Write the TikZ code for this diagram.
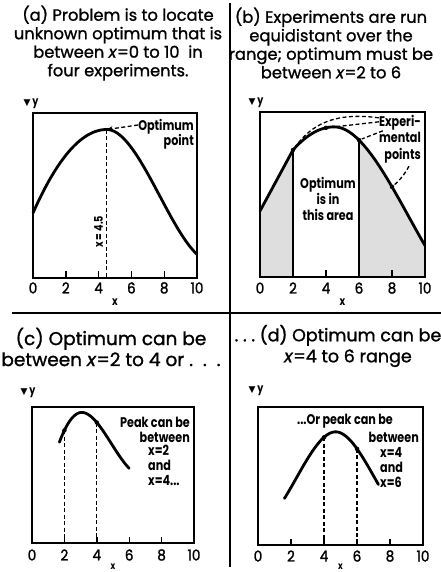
\documentclass[tikz,border=0pt]{standalone}
\usepackage{fontspec}
\setmainfont{Poppins}
\newfontfamily\headfont[FakeBold=1.2]{Poppins}
\newfontfamily\numfont[FakeStretch=0.9, FakeBold=1.6]{Poppins}
\newfontfamily\notefont[FakeStretch=0.80]{Poppins}
\newfontfamily\symfont{DejaVu Sans}
\usetikzlibrary{arrows.meta}

\begin{document}
\begin{tikzpicture}[x=1pt, y=-1pt,
  frame/.style={line width=2.6pt},
  curve/.style={line width=2.8pt},
  guide/.style={line width=1.3pt, dash pattern=on 4pt off 2.5pt},
  cut/.style={line width=1.6pt},
  tickmark/.style={line width=1.4pt},
  rule/.style={line width=2.6pt},
  heading/.style={align=center, inner sep=0pt, font=\headfont\fontsize{16.3}{18.5}\selectfont},
  lowheading/.style={align=center, inner sep=0pt, font=\headfont\fontsize{18.5}{21}\selectfont},
  note/.style={inner sep=0pt, font=\notefont\bfseries\fontsize{14}{15}\selectfont},
  num/.style={inner sep=0pt, font=\numfont\fontsize{15}{15}\selectfont},
  axis/.style={inner sep=0pt, font=\notefont\bfseries\fontsize{12}{12}\selectfont},
  dot/.style={circle, fill, inner sep=0pt, minimum size=4.5pt}]
\useasboundingbox (0,0) rectangle (441,572);
\draw[rule] (230,3) -- (230,567);
\draw[rule] (12,313) -- (441,313);
\node[heading] (titleA) at (118,43) {(a) Problem is to locate\\unknown optimum that is\\between \textit{x}=0 to 10\ \ in\\four experiments.};
\node[heading] (titleB) at (331,43) {(b) Experiments are run\\equidistant over the\\range; optimum must be\\between \textit{x}=2 to 6};
\node[lowheading] (titleC) at (111,347) {(c) Optimum can be\\between \textit{x}=2 to 4 or .\ \ .\ \ .};
\node[lowheading, font=\headfont\fontsize{17.5}{21}\selectfont] (titleD) at (338,346) {.\ .\ .\ (d) Optimum can be\\\hspace*{20pt}\textit{x}=4 to 6 range};
\node[axis] (yA) at (31,104) {{\symfont\fontsize{9}{9}\selectfont ▼}\,y};
\node[axis] (yB) at (256,103) {{\symfont\fontsize{9}{9}\selectfont ▼}\,y};
\node[axis] (yC) at (28,393) {{\symfont\fontsize{9}{9}\selectfont ▼}\,y};
\node[axis] (yD) at (256,391) {{\symfont\fontsize{9}{9}\selectfont ▼}\,y};
\begin{scope}[shift={(33,278)}, x=16.4pt, y=165pt]
\draw[curve] plot[domain=0:4.5, samples=40] (\x,{0.9-0.025*(\x-4.5)*(\x-4.5)}) -- plot[domain=4.5:10, samples=50] (\x,{0.9-0.058*(\x-4.5)^2+0.006*(\x-4.5)^3});
\coordinate (peakA) at (4.5,0.9);
\draw[guide] (peakA) -- (4.5,0);
\draw[tickmark] (2,0) -- (2,0.04);
\draw[tickmark] (4,0) -- (4,0.04);
\draw[tickmark] (6,0) -- (6,0.04);
\draw[tickmark] (8,0) -- (8,0.04);
\draw[frame] (0,0) rectangle (10,1);
\node[axis, rotate=90] (xposA) at (4.0,0.28) {x = 4.5};
\node[num] (a0) at (0,-0.06) {0};
\node[num] (a2) at (2,-0.06) {2};
\node[num] (a4) at (4,-0.06) {4};
\node[num] (a6) at (6,-0.06) {6};
\node[num] (a8) at (8,-0.06) {8};
\node[num] (a10) at (10,-0.06) {10};
\node[axis] (xA) at (5,-0.145) {x};
\end{scope}
\node[note, align=right, anchor=east] (optA) at (194,134) {Optimum\\point};
\draw[guide, -{Stealth[length=6pt, width=5pt]}] ([yshift=9pt]optA.west) -- (peakA);
\begin{scope}[shift={(260,277)}, x=16.5pt, y=165pt]
\fill[black!13] (0,0) -- (0,0.40) -- (2,0.77) -- plot[domain=2:4.5] (\x,{0.91-0.0224*(\x-4.5)*(\x-4.5)}) -- plot[domain=4.5:10] (\x,{0.91-0.040*(\x-4.5)^2+0.00294*(\x-4.5)^3}) -- (10,0) -- cycle;
\fill[white] (2,0) rectangle (6,1);
\draw[curve] (0,0.40) -- (2,0.77) -- plot[domain=2:4.5] (\x,{0.91-0.0224*(\x-4.5)*(\x-4.5)}) -- plot[domain=4.5:10] (\x,{0.91-0.040*(\x-4.5)^2+0.00294*(\x-4.5)^3});
\coordinate (ptB2) at (2,0.77);
\coordinate (ptB4) at (4,0.904);
\coordinate (ptB6) at (6,0.83);
\coordinate (ptB8) at (8,0.546);
\draw[cut] (ptB2) -- (2,0);
\draw[cut] (ptB6) -- (6,0);
\draw[tickmark] (4,0) -- (4,0.04);
\draw[tickmark] (8,0) -- (8,0.04);
\node[dot] (dotB2) at (ptB2) {};
\node[dot] (dotB4) at (ptB4) {};
\node[dot] (dotB6) at (ptB6) {};
\node[dot] (dotB8) at (ptB8) {};
\draw[frame] (0,0) rectangle (10,1);
\node[num] (b0) at (0,-0.067) {0};
\node[num] (b2) at (2,-0.067) {2};
\node[num] (b4) at (4,-0.067) {4};
\node[num] (b6) at (6,-0.067) {6};
\node[num] (b8) at (8,-0.067) {8};
\node[num] (b10) at (10,-0.067) {10};
\node[axis] (xB) at (5,-0.152) {x};
\end{scope}
\node[note, align=center, font=\notefont\bfseries\fontsize{14}{16}\selectfont] (areaB) at (328,199) {Optimum\\is in\\this area};
\node[note, align=right, anchor=east, font=\notefont\bfseries\fontsize{14}{16.5}\selectfont] (expB) at (421,139) {Experi-\\mental\\points};
\draw[guide, shorten >=4pt] ([yshift=-3pt]expB.north west) .. controls (335,112) and (312,124) .. (ptB2);
\draw[guide, shorten >=3pt] ([yshift=-7pt]expB.north west) -- (ptB4);
\draw[guide, shorten >=3pt] ([xshift=4pt, yshift=-16pt]expB.north west) -- (ptB6);
\draw[guide, shorten >=3pt] ([xshift=-12pt, yshift=-3pt]expB.south east) to[bend left=10] (ptB8);
\begin{scope}[shift={(32,543)}, x=16.2pt, y=136pt]
\draw[curve, line cap=round] plot[domain=1.69:3.07, samples=30] (\x,{0.96-0.115*(\x-3.07)*(\x-3.07)}) -- plot[domain=3.07:6, samples=40] (\x,{0.96-0.1028*(\x-3.07)^2+0.01875*(\x-3.07)^3});
\coordinate (ptC2) at (2,0.828);
\coordinate (ptC4) at (4,0.886);
\draw[guide] (ptC2) -- (2,0);
\draw[guide] (ptC4) -- (4,0);
\node[dot] (dotC2) at (ptC2) {};
\node[dot] (dotC4) at (ptC4) {};
\draw[tickmark] (2,0) -- (2,0.045);
\draw[tickmark] (4,0) -- (4,0.045);
\draw[tickmark] (6,0) -- (6,0.045);
\draw[tickmark] (8,0) -- (8,0.045);
\draw[frame] (0,0) rectangle (10,1);
\node[num] (c0) at (0,-0.088) {0};
\node[num] (c2) at (2,-0.088) {2};
\node[num] (c4) at (4,-0.088) {4};
\node[num] (c6) at (6,-0.088) {6};
\node[num] (c8) at (8,-0.088) {8};
\node[num] (c10) at (10,-0.088) {10};
\node[axis, font=\notefont\bfseries\fontsize{10}{10}\selectfont] (xC) at (5,-0.176) {x};
\end{scope}
\node[note, align=right, anchor=east] (peakC) at (190,430) {Peak can be\\between};
\node[note, align=left, anchor=west] (rangeC) at (148,465) {x=2\\and\\x=4...};
\begin{scope}[shift={(258,545)}, x=16.5pt, y=138pt]
\draw[curve, line cap=round] plot[domain=1.6:7.3, samples=80] (\x,{0.82-0.089*(\x-4.7)*(\x-4.7)+0.0125*abs(\x-4.7)^3});
\coordinate (ptD4) at (4,0.78);
\coordinate (ptD6) at (6,0.697);
\draw[guide] (ptD4) -- (4,0);
\draw[guide] (ptD6) -- (6,0);
\node[dot] (dotD4) at (ptD4) {};
\node[dot] (dotD6) at (ptD6) {};
\draw[tickmark] (2,0) -- (2,0.045);
\draw[tickmark] (4,0) -- (4,0.045);
\draw[tickmark] (6,0) -- (6,0.045);
\draw[tickmark] (8,0) -- (8,0.045);
\draw[frame] (0,0) rectangle (10,1);
\node[num] (d0) at (0,-0.08) {0};
\node[num] (d2) at (2,-0.08) {2};
\node[num] (d4) at (4,-0.08) {4};
\node[num] (d6) at (6,-0.08) {6};
\node[num] (d8) at (8,-0.08) {8};
\node[num] (d10) at (10,-0.08) {10};
\node[axis, font=\notefont\bfseries\fontsize{10}{10}\selectfont] (xD) at (5,-0.16) {x};
\end{scope}
\node[note] (peakD) at (345,421) {...Or peak can be};
\node[note, anchor=east] (betweenD) at (419,437) {between};
\node[note, align=left, anchor=west] (rangeD) at (380,467) {x=4\\and\\x=6};
\end{tikzpicture}
\end{document}
